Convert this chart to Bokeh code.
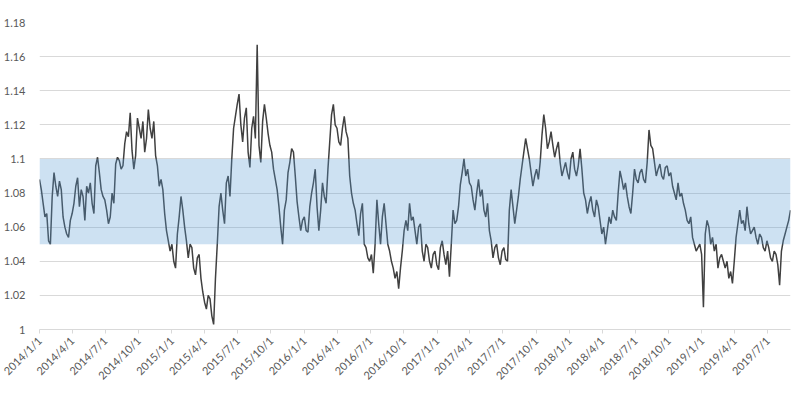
import pandas as pd
from bokeh.plotting import figure
from bokeh.models import Range1d, FixedTicker, BoxAnnotation
from bokeh.embed import file_html
from bokeh.resources import INLINE

# ---- data (one reading every 5 days from 2014/1/1) ----
start_date = "2014-01-01"
step = "5D"
values = [
    1.088, 1.082, 1.074, 1.066, 1.068, 1.052, 1.050, 1.078, 1.092, 1.084,
    1.078, 1.087, 1.082, 1.066, 1.060, 1.056, 1.054, 1.064, 1.068, 1.074,
    1.084, 1.089, 1.072, 1.082, 1.078, 1.064, 1.084, 1.080, 1.086, 1.074,
    1.068, 1.096, 1.101, 1.092, 1.082, 1.078, 1.076, 1.070, 1.062, 1.066,
    1.080, 1.074, 1.097, 1.101, 1.099, 1.094, 1.096, 1.109, 1.116, 1.113,
    1.127, 1.105, 1.094, 1.102, 1.124, 1.118, 1.112, 1.122, 1.104, 1.112,
    1.129, 1.118, 1.112, 1.122, 1.102, 1.096, 1.084, 1.088, 1.082, 1.068,
    1.058, 1.052, 1.046, 1.050, 1.040, 1.036, 1.056, 1.066, 1.078, 1.070,
    1.060, 1.052, 1.042, 1.050, 1.048, 1.036, 1.032, 1.042, 1.044, 1.030,
    1.022, 1.016, 1.012, 1.020, 1.018, 1.008, 1.003, 1.030, 1.050, 1.072,
    1.080, 1.070, 1.062, 1.086, 1.090, 1.078, 1.100, 1.118, 1.125, 1.132,
    1.138, 1.120, 1.110, 1.124, 1.130, 1.104, 1.095, 1.118, 1.125, 1.112,
    1.167, 1.108, 1.098, 1.122, 1.132, 1.124, 1.115, 1.108, 1.104, 1.094,
    1.088, 1.082, 1.072, 1.060, 1.050, 1.070, 1.076, 1.092, 1.098, 1.106,
    1.104, 1.090, 1.075, 1.066, 1.058, 1.064, 1.066, 1.058, 1.057, 1.072,
    1.080, 1.086, 1.094, 1.072, 1.058, 1.070, 1.086, 1.078, 1.074, 1.094,
    1.110, 1.126, 1.132, 1.120, 1.118, 1.110, 1.108, 1.118, 1.125, 1.116,
    1.112, 1.090, 1.080, 1.074, 1.070, 1.062, 1.055, 1.068, 1.074, 1.050,
    1.048, 1.042, 1.040, 1.044, 1.033, 1.050, 1.076, 1.062, 1.050, 1.066,
    1.074, 1.062, 1.050, 1.046, 1.040, 1.036, 1.030, 1.034, 1.024, 1.036,
    1.046, 1.058, 1.064, 1.058, 1.074, 1.064, 1.066, 1.058, 1.050, 1.060,
    1.062, 1.046, 1.040, 1.050, 1.048, 1.040, 1.036, 1.044, 1.046, 1.038,
    1.035, 1.048, 1.052, 1.044, 1.038, 1.046, 1.031, 1.050, 1.070, 1.062,
    1.064, 1.072, 1.085, 1.092, 1.100, 1.090, 1.094, 1.086, 1.084, 1.076,
    1.070, 1.080, 1.088, 1.078, 1.082, 1.070, 1.066, 1.074, 1.058, 1.052,
    1.042, 1.048, 1.050, 1.042, 1.038, 1.046, 1.048, 1.041, 1.040, 1.070,
    1.082, 1.072, 1.062, 1.070, 1.078, 1.088, 1.096, 1.104, 1.112, 1.106,
    1.100, 1.092, 1.084, 1.090, 1.094, 1.088, 1.098, 1.114, 1.126, 1.118,
    1.106, 1.110, 1.116, 1.108, 1.101, 1.106, 1.110, 1.098, 1.090, 1.094,
    1.098, 1.092, 1.088, 1.100, 1.104, 1.094, 1.090, 1.096, 1.106, 1.094,
    1.080, 1.076, 1.068, 1.074, 1.078, 1.070, 1.066, 1.076, 1.072, 1.064,
    1.056, 1.060, 1.050, 1.058, 1.066, 1.062, 1.070, 1.066, 1.064, 1.080,
    1.093, 1.088, 1.082, 1.086, 1.078, 1.072, 1.068, 1.080, 1.094, 1.088,
    1.086, 1.092, 1.094, 1.088, 1.086, 1.098, 1.117, 1.108, 1.106, 1.098,
    1.090, 1.094, 1.097, 1.090, 1.088, 1.095, 1.096, 1.090, 1.092, 1.084,
    1.080, 1.076, 1.086, 1.078, 1.080, 1.074, 1.070, 1.064, 1.062, 1.066,
    1.054, 1.050, 1.046, 1.048, 1.050, 1.044, 1.013, 1.056, 1.064, 1.060,
    1.050, 1.054, 1.046, 1.050, 1.036, 1.042, 1.044, 1.040, 1.036, 1.040,
    1.030, 1.034, 1.027, 1.040, 1.054, 1.062, 1.070, 1.062, 1.064, 1.058,
    1.072, 1.062, 1.056, 1.058, 1.060, 1.054, 1.050, 1.056, 1.054, 1.048,
    1.046, 1.052, 1.048, 1.042, 1.040, 1.046, 1.044, 1.038, 1.026, 1.046,
    1.052, 1.056, 1.060, 1.064, 1.070,
]
band_low = 1.05
band_high = 1.10

x_tick_labels = [
    "2014/1/1", "2014/4/1", "2014/7/1", "2014/10/1",
    "2015/1/1", "2015/4/1", "2015/7/1", "2015/10/1",
    "2016/1/1", "2016/4/1", "2016/7/1", "2016/10/1",
    "2017/1/1", "2017/4/1", "2017/7/1", "2017/10/1",
    "2018/1/1", "2018/4/1", "2018/7/1", "2018/10/1",
    "2019/1/1", "2019/4/1", "2019/7/1",
]
y_ticks = [1.0, 1.02, 1.04, 1.06, 1.08, 1.1, 1.12, 1.14, 1.16, 1.18]
y_tick_labels = ["1", "1.02", "1.04", "1.06", "1.08", "1.1", "1.12", "1.14", "1.16", "1.18"]

dates = pd.date_range(start_date, periods=len(values), freq=step)

FONT = "Lato"
TXT = "#595959"
GRID = "#d9d9d9"

p = figure(
    frame_width=751, frame_height=307,
    x_axis_type="datetime",
    x_range=Range1d(dates[0], dates[-1]),
    y_range=Range1d(y_ticks[0], y_ticks[-1]),
    output_backend="svg", toolbar_location=None,
    min_border_left=32, min_border_top=22, min_border_right=1, min_border_bottom=48,
)
p.outline_line_color = None
p.background_fill_color = "white"
p.border_fill_color = "white"

p.line(dates, values, line_color="#404040", line_width=1.5)

band = BoxAnnotation(bottom=band_low, top=band_high, fill_color="#5b9bd5",
                     fill_alpha=0.3, line_color=None)
p.add_layout(band)

# y axis
p.yaxis.ticker = FixedTicker(ticks=y_ticks)
p.yaxis.major_label_overrides = {t: l for t, l in zip(y_ticks, y_tick_labels)}
p.yaxis.axis_line_color = None
p.yaxis.major_tick_line_color = None
p.yaxis.minor_tick_line_color = None
p.yaxis.major_label_standoff = 8
p.yaxis.major_label_text_font = FONT
p.yaxis.major_label_text_font_size = "11px"
p.yaxis.major_label_text_color = TXT

# x axis
tick_ts = pd.to_datetime(x_tick_labels, format="%Y/%m/%d")
tick_ms = [int(t.value // 10**6) for t in tick_ts]
p.xaxis.ticker = FixedTicker(ticks=tick_ms)
p.xaxis.major_label_overrides = {t: l for t, l in zip(tick_ms, x_tick_labels)}
p.xaxis.major_label_orientation = 0.785398
p.xaxis.axis_line_color = GRID
p.xaxis.major_tick_line_color = GRID
p.xaxis.major_tick_out = 4
p.xaxis.major_tick_in = 0
p.xaxis.minor_tick_line_color = None
p.xaxis.major_label_standoff = 5
p.xaxis.major_label_text_font = FONT
p.xaxis.major_label_text_font_size = "11px"
p.xaxis.major_label_text_color = TXT

p.xgrid.visible = False
p.ygrid.grid_line_color = GRID
p.ygrid.grid_line_width = 1

open("out.html", "w").write(file_html(p, INLINE))
